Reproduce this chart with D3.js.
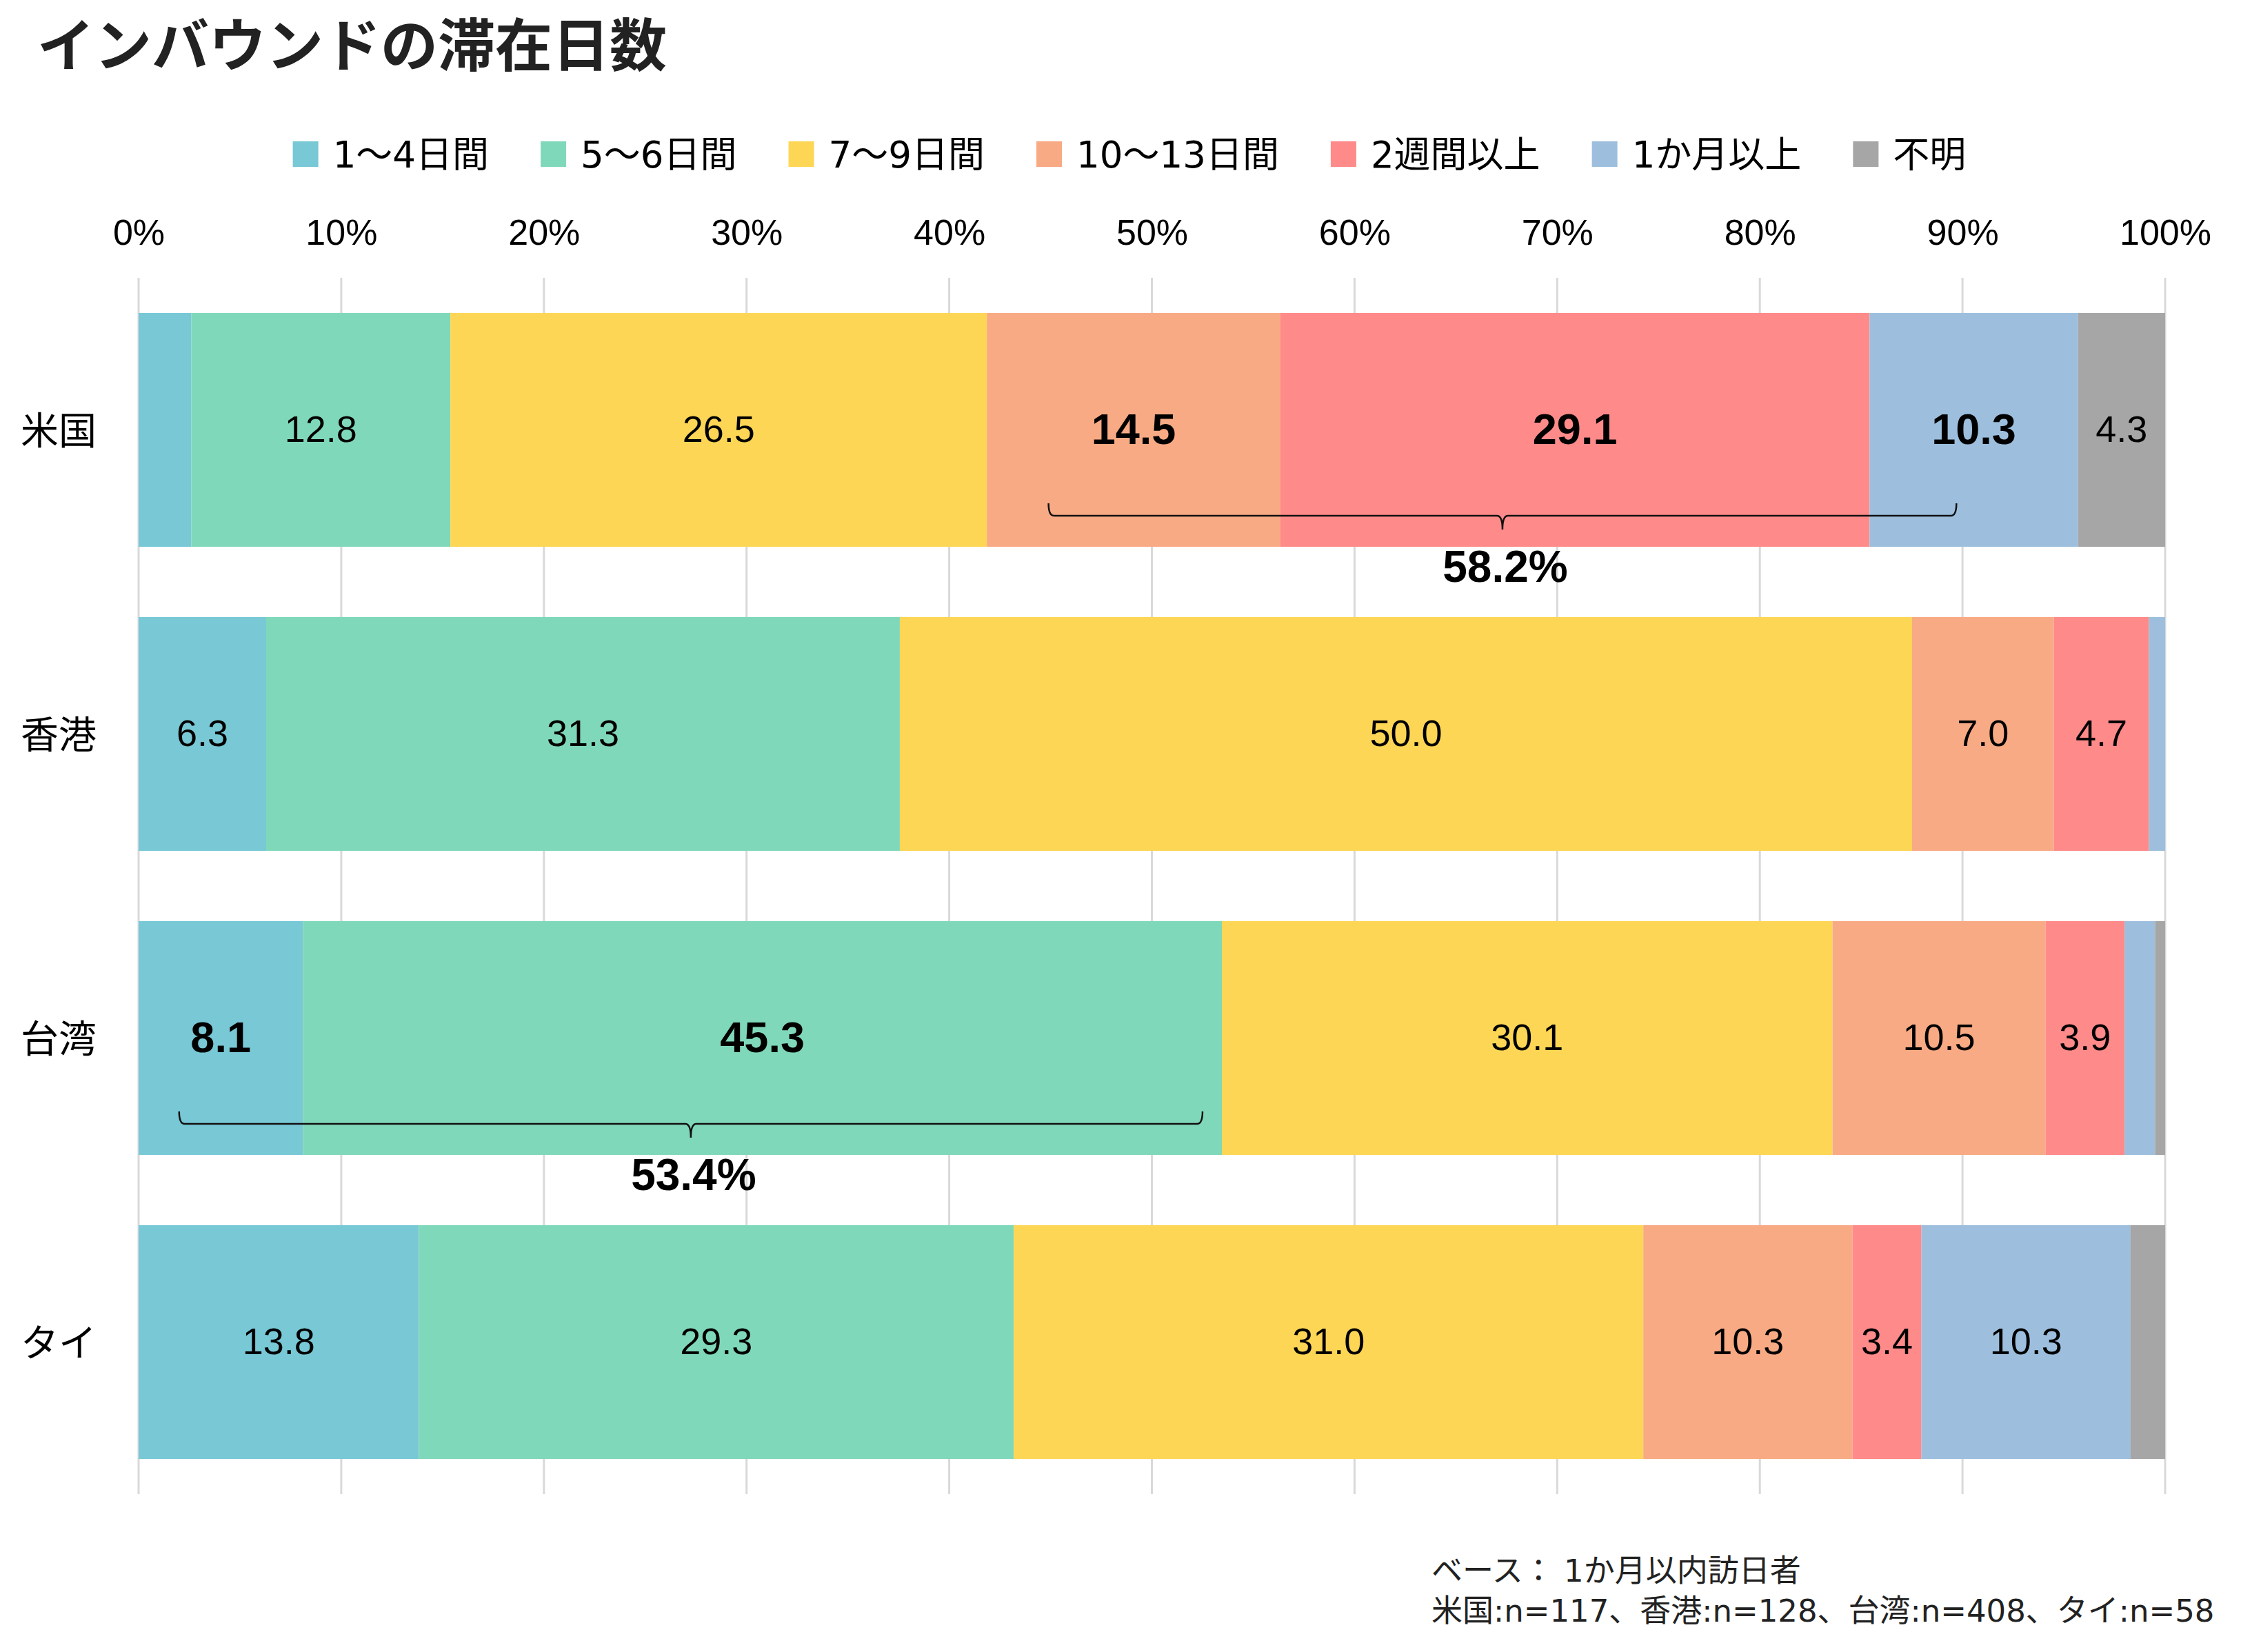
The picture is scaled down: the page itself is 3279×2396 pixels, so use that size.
<!DOCTYPE html>
<html>
<head>
<meta charset="utf-8">
<script src="https://cdn.jsdelivr.net/npm/d3@7"></script>
<style>
  body { margin: 0; background: #fff; }
  svg { display: block; }
</style>
</head>
<body>
<div id="chart"></div>
<script>
// Data
const categories = ["米国", "香港", "台湾", "タイ"];
const seriesNames = ["1～4日間", "5～6日間", "7～9日間", "10～13日間", "2週間以上", "1か月以上", "不明"];
const usa = [2.6, 12.8, 26.5, 14.5, 29.1, 10.3, 4.3];
const hongKong = [6.3, 31.3, 50.0, 7.0, 4.7, 0.8, 0];
const taiwan = [8.1, 45.3, 30.1, 10.5, 3.9, 1.5, 0.5];
const thailand = [13.8, 29.3, 31.0, 10.3, 3.4, 10.3, 1.7];
const tickValues = [0, 10, 20, 30, 40, 50, 60, 70, 80, 90, 100];

// highlighted (bold) cells, by series index
const boldCells = { "米国": [3, 4, 5], "台湾": [0, 1] };

// brace annotations (in % of axis)
const braceCats = ["米国", "台湾"];
const braceFrom = [44.9, 2.0];
const braceTo = [89.7, 52.5];
const braceTotals = ["58.2%", "53.4%"];

const title = "インバウンドの滞在日数";
const noteLines = ["ベース： 1か月以内訪日者", "米国:n=117、香港:n=128、台湾:n=408、タイ:n=58"];

const colors = ["#78c8d6", "#80d8ba", "#fdd655", "#f8aa84", "#ff8a8a", "#9dbfdd", "#a6a6a6"];

const width = 3279;
const height = 2396;
const latin = "'Liberation Sans', Arial, sans-serif";
const jp = "'Noto Sans CJK JP', 'Noto Sans', sans-serif";
const mixed = "'DejaVu Sans', 'Noto Sans CJK JP', sans-serif";

const valuesByCat = [usa, hongKong, taiwan, thailand];
const table = categories.map((c, i) => {
    const row = { cat: c };
    seriesNames.forEach((s, j) => row[s] = valuesByCat[i][j]);
    return row;
});

const svg = d3.select("#chart")
    .append("svg")
    .attr("width", width)
    .attr("height", height);

svg.append("rect").attr("width", width).attr("height", height).attr("fill", "#fff");

// Scales (100% stacked: stack is expanded to 0..1)
const xScale = d3.scaleLinear().domain([0, 1]).range([201, 3140]);
const yScale = d3.scaleBand().domain(categories).range([403, 2167])
    .paddingInner(0.231).paddingOuter(0.1155);

// Title
svg.append("text")
    .attr("x", 54).attr("y", 96)
    .attr("font-family", jp).attr("font-weight", 700)
    .attr("font-size", 83).attr("fill", "#222")
    .text(title);

// Gridlines
svg.append("g").selectAll("line")
    .data(tickValues)
    .join("line")
    .attr("x1", d => xScale(d / 100)).attr("x2", d => xScale(d / 100))
    .attr("y1", 403).attr("y2", 2167)
    .attr("stroke", "#d9d9d9").attr("stroke-width", 3);

// Top axis labels
const xAxis = d3.axisTop(xScale).tickValues(tickValues.map(d => d / 100))
    .tickSize(0).tickPadding(0)
    .tickFormat(d => Math.round(d * 100) + "%");
const axisG = svg.append("g")
    .attr("transform", "translate(0,355)")
    .call(xAxis);
axisG.select(".domain").remove();
axisG.selectAll("text")
    .attr("font-family", latin).attr("font-size", 52).attr("fill", "#000")
    .attr("dy", 0);

// Category labels
svg.append("g").selectAll("text")
    .data(categories)
    .join("text")
    .attr("x", 30)
    .attr("y", d => yScale(d) + yScale.bandwidth() / 2 - 4)
    .attr("dominant-baseline", "central")
    .attr("font-family", jp).attr("font-size", 55).attr("fill", "#000")
    .text(d => d);

// Stacked bars
const stacked = d3.stack().keys(seriesNames).offset(d3.stackOffsetExpand)(table);

const layers = svg.append("g").selectAll("g")
    .data(stacked)
    .join("g")
    .attr("fill", (d, i) => colors[i]);

layers.selectAll("rect")
    .data(d => d)
    .join("rect")
    .attr("x", d => xScale(d[0]))
    .attr("y", d => yScale(d.data.cat))
    .attr("width", d => Math.max(0, xScale(d[1]) - xScale(d[0])))
    .attr("height", yScale.bandwidth());

// Value labels
stacked.forEach((layer, si) => {
    const key = layer.key;
    const isBold = d => (boldCells[d.data.cat] || []).includes(si);
    svg.append("g").selectAll("text")
        .data(layer.filter(d => d.data[key] >= 3))
        .join("text")
        .attr("x", d => (xScale(d[0]) + xScale(d[1])) / 2)
        .attr("y", d => yScale(d.data.cat) + yScale.bandwidth() / 2 - 2)
        .attr("text-anchor", "middle")
        .attr("dominant-baseline", "central")
        .attr("font-family", latin)
        .attr("font-weight", d => isBold(d) ? 700 : 400)
        .attr("font-size", d => isBold(d) ? 63 : 54)
        .attr("fill", "#000")
        .text(d => d.data[key].toFixed(1));
});

// Braces
braceCats.forEach((c, i) => {
    const x1 = xScale(braceFrom[i] / 100);
    const x2 = xScale(braceTo[i] / 100);
    const cx = (x1 + x2) / 2;
    const ly = yScale(c) + 294;
    const up = 18, down = 20, r = 8;
    const p = d3.path();
    p.moveTo(x1, ly - up);
    p.quadraticCurveTo(x1, ly, x1 + r, ly);
    p.lineTo(cx - r, ly);
    p.quadraticCurveTo(cx, ly, cx, ly + down);
    p.quadraticCurveTo(cx, ly, cx + r, ly);
    p.lineTo(x2 - r, ly);
    p.quadraticCurveTo(x2, ly, x2, ly - up);
    svg.append("path")
        .attr("d", p.toString())
        .attr("fill", "none")
        .attr("stroke", "#111")
        .attr("stroke-width", 2.5);
    svg.append("text")
        .attr("x", cx + 4).attr("y", ly + 96)
        .attr("text-anchor", "middle")
        .attr("font-family", latin).attr("font-weight", 700)
        .attr("font-size", 64).attr("fill", "#000")
        .text(braceTotals[i]);
});

// Legend
const legend = svg.append("g");
const items = legend.selectAll("g")
    .data(seriesNames)
    .join("g");
items.append("rect")
    .attr("width", 37).attr("height", 37)
    .attr("y", 205)
    .attr("fill", (d, i) => colors[i]);
items.append("text")
    .attr("x", 58).attr("y", 224)
    .attr("dominant-baseline", "central")
    .attr("font-family", mixed).attr("font-size", 53).attr("fill", "#000")
    .text(d => d);
let offsets = [];
let acc = 0;
items.each(function(d, i) {
    const w = 58 + this.querySelector("text").getComputedTextLength();
    offsets.push(acc);
    acc += w + (i < seriesNames.length - 1 ? 75 : 0);
});
const legendStart = 1638 - acc / 2;
items.attr("transform", (d, i) => `translate(${legendStart + offsets[i]},0)`);

// Note
svg.append("g").selectAll("text")
    .data(noteLines)
    .join("text")
    .attr("x", 2076)
    .attr("y", (d, i) => 2294 + i * 58)
    .attr("font-family", mixed).attr("font-size", 45).attr("fill", "#222")
    .text(d => d);
</script>
</body>
</html>
